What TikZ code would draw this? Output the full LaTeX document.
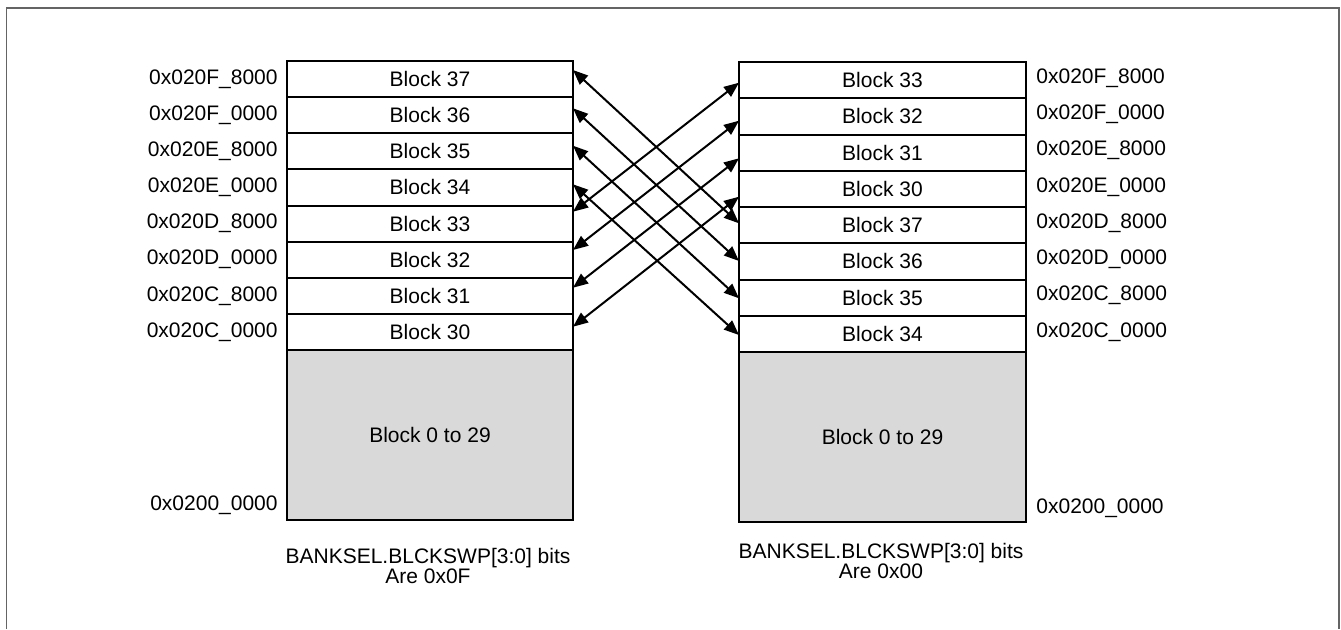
\documentclass[tikz,border=0pt]{standalone}
\usepackage{fontspec}
\setmainfont{Liberation Sans}
\usetikzlibrary{arrows.meta}
\definecolor{gfill}{RGB}{217,217,217}
\definecolor{framec}{RGB}{100,100,100}
\begin{document}
\begin{tikzpicture}[x=0.5pt,y=-0.5pt,
  txt/.style={font=\fontsize{10.5pt}{12pt}\selectfont},
  lblk/.style={draw, line width=1pt, minimum width=143pt, minimum height=18.06pt, inner sep=0pt, outer sep=0pt, txt},
  rblk/.style={draw, line width=1pt, minimum width=143.5pt, minimum height=18.125pt, inner sep=0pt, outer sep=0pt, txt},
  gblk/.style={draw, line width=1pt, fill=gfill, minimum height=85pt, inner sep=0pt, outer sep=0pt, txt},
  laddr/.style={txt, anchor=east, inner sep=0pt},
  raddr/.style={txt, anchor=west, inner sep=0pt},
  captxt/.style={font=\fontsize{10.5pt}{10pt}\selectfont, align=center, inner sep=0pt},
  swaparr/.style={line width=1pt, {Triangle[length=7.5pt,width=6pt]}-{Triangle[length=7.5pt,width=6pt]}}
]
\useasboundingbox (0,0) rectangle (1341,629);
\draw[framec, line width=0.75pt] (6.5,629) -- (6.5,8) -- (1339,8) -- (1339,629);

% left stack
\node[lblk] (L1) at (430,79.06) {Block 37};
\node[lblk] (L2) at (430,115.19) {Block 36};
\node[lblk] (L3) at (430,151.31) {Block 35};
\node[lblk] (L4) at (430,187.44) {Block 34};
\node[lblk] (L5) at (430,223.56) {Block 33};
\node[lblk] (L6) at (430,259.69) {Block 32};
\node[lblk] (L7) at (430,295.81) {Block 31};
\node[lblk] (L8) at (430,331.94) {Block 30};
\node[gblk, minimum width=143pt] (LG) at (430,435) {Block 0 to 29};

% right stack
\node[rblk] (R1) at (882.5,80.13) {Block 33};
\node[rblk] (R2) at (882.5,116.38) {Block 32};
\node[rblk] (R3) at (882.5,152.63) {Block 31};
\node[rblk] (R4) at (882.5,188.88) {Block 30};
\node[rblk] (R5) at (882.5,225.13) {Block 37};
\node[rblk] (R6) at (882.5,261.38) {Block 36};
\node[rblk] (R7) at (882.5,297.63) {Block 35};
\node[rblk] (R8) at (882.5,333.88) {Block 34};
\node[gblk, minimum width=143.5pt] (RG) at (882.5,437) {Block 0 to 29};

% left addresses
\node[laddr] (la1) at (278,79.06) {0x020F\_8000};
\node[laddr] (la2) at (278,115.19) {0x020F\_0000};
\node[laddr] (la3) at (278,151.31) {0x020E\_8000};
\node[laddr] (la4) at (278,187.44) {0x020E\_0000};
\node[laddr] (la5) at (278,223.56) {0x020D\_8000};
\node[laddr] (la6) at (278,259.69) {0x020D\_0000};
\node[laddr] (la7) at (278,295.81) {0x020C\_8000};
\node[laddr] (la8) at (278,331.94) {0x020C\_0000};
\node[laddr] (la9) at (278,505) {0x0200\_0000};

% right addresses
\node[raddr] (ra1) at (1036,78.1) {0x020F\_8000};
\node[raddr] (ra2) at (1036,114.4) {0x020F\_0000};
\node[raddr] (ra3) at (1036,150.6) {0x020E\_8000};
\node[raddr] (ra4) at (1036,186.9) {0x020E\_0000};
\node[raddr] (ra5) at (1036,223.1) {0x020D\_8000};
\node[raddr] (ra6) at (1036,259.4) {0x020D\_0000};
\node[raddr] (ra7) at (1036,295.6) {0x020C\_8000};
\node[raddr] (ra8) at (1036,331.9) {0x020C\_0000};
\node[raddr] (ra9) at (1036,508) {0x0200\_0000};

% captions
\node[captxt] (lc) at (428,565.5) {BANKSEL.BLCKSWP[3:0] bits\\Are 0x0F};
\node[captxt] (rc) at (881,561) {BANKSEL.BLCKSWP[3:0] bits\\Are 0x00};

% swap arrows
\draw[swaparr] ([yshift=4.53pt]L1.east) -- ([yshift=0.9pt]R5.west);
\draw[swaparr] ([yshift=3.45pt]L2.east) -- ([yshift=0.2pt]R6.west);
\draw[swaparr] ([yshift=2.8pt]L3.east) -- ([yshift=-0.33pt]R7.west);
\draw[swaparr] ([yshift=1.57pt]L4.east) -- ([yshift=-0.56pt]R8.west);
\draw[swaparr] ([yshift=-1.28pt]R1.west) -- ([yshift=5.93pt]L5.east);
\draw[swaparr] ([yshift=-2.16pt]R2.west) -- ([yshift=4.85pt]L6.east);
\draw[swaparr] ([yshift=-2.83pt]R3.west) -- ([yshift=4.05pt]L7.east);
\draw[swaparr] ([yshift=-3.9pt]R4.west) -- ([yshift=2.62pt]L8.east);
\end{tikzpicture}
\end{document}
